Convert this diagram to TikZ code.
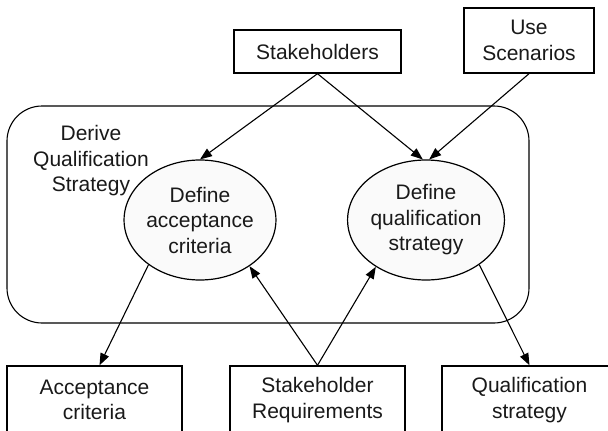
\documentclass[tikz,border=0pt]{standalone}
\usepackage{fontspec}
\setmainfont{Liberation Sans}
\usetikzlibrary{arrows.meta,shapes.geometric}
\begin{document}
\begin{tikzpicture}[x=1pt,y=-1pt,
  txt/.style={font=\fontsize{21}{25.5}\selectfont, align=center, text=black!90},
  box/.style={txt, draw, line width=1.4pt, inner sep=0pt},
  proc/.style={txt, ellipse, draw, line width=1.2pt, fill=black!2, inner sep=0pt},
  arr/.style={line width=1.1pt, -{Triangle[length=12pt,width=9pt]}},
  group/.style={draw, line width=1.1pt, rounded corners=35pt, inner sep=0pt}
]
\useasboundingbox (0,0) rectangle (608,431);
\clip (0,0) rectangle (608,431);

\node[group, minimum width=522pt, minimum height=217pt] (derive) at (268,214.5) {};
\node[txt] (dlabel) at (91,161) {Derive\\Qualification\\Strategy};

\node[box, minimum width=167pt, minimum height=43pt] (sh) at (317.5,51.5) {Stakeholders};
\node[box, minimum width=130pt, minimum height=65pt] (us) at (529,40.5) {Use\\Scenarios};

\node[proc, minimum width=140pt, minimum height=120pt] (e1) at (200,220) {Define\\acceptance\\criteria};
\node[proc, minimum width=142pt, minimum height=120pt] (e2) at (426,220) {Define\\qualification\\strategy};

\node[box, minimum width=175pt, minimum height=68pt] (ac) at (94.5,400) {Acceptance\\criteria};
\node[box, minimum width=175pt, minimum height=68pt] (sr) at (317.5,400) {Stakeholder\\Requirements};
\node[box, minimum width=175pt, minimum height=68pt] (qs) at (529.5,400) {Qualification\\strategy};

\draw[arr] (sh.south) -- (e1.90);
\draw[arr] (sh.south) -- (e2.93);
\draw[arr] (us.south) -- (e2.87);
\draw[arr] (e1.221) -- ([xshift=5pt]ac.north);
\draw[arr] (e2.320) -- (qs.north);
\draw[arr] (sr.north) -- (e1.317);
\draw[arr] (sr.north) -- (e2.223);
\end{tikzpicture}
\end{document}
